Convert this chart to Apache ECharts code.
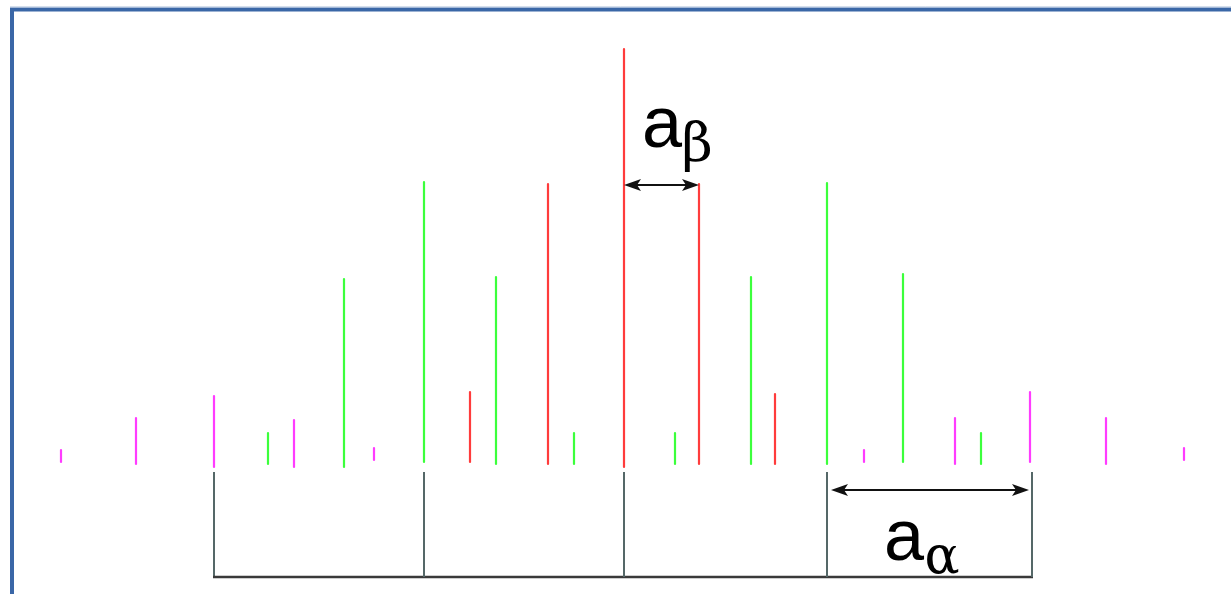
<!DOCTYPE html>
<html>
<head>
<meta charset="utf-8">
<script src="https://cdn.jsdelivr.net/npm/echarts@6/dist/echarts.min.js"></script>
<style>
html,body{margin:0;padding:0;background:#fff;}
#chart{width:1231px;height:594px;}
</style>
</head>
<body>
<div id="chart"></div>
<script>
// Stick spectrum: position (arbitrary units), base and top intensity (arbitrary units, 0 = baseline)
const magentaPos  = [61, 136, 214, 294, 374, 864, 955, 1030, 1106, 1184];
const magentaBase = [3, 1, -2, -2, 5, 3, 1, 3, 1, 5];
const magentaTop  = [15, 47, 69, 45, 17, 15, 47, 73, 47, 17];

const greenPos  = [268, 344, 424, 496, 574, 675, 751, 827, 903, 981];
const greenBase = [1, -2, 3, 1, 1, 1, 1, 1, 3, 1];
const greenTop  = [32, 186, 283, 188, 32, 32, 188, 282, 191, 32];

const redPos  = [470, 548, 624, 699, 775];
const redBase = [3, 1, -2, 1, 1];
const redTop  = [73, 281, 416, 281, 71];

// Bracket below the spectrum
const bracketPos = [214, 424, 624, 827, 1032];
const bracketTop = -7;
const bracketBottom = -112;

// Spacing arrows: [from, to, level]
const arrowBeta  = [624, 699, 280];
const arrowAlpha = [831, 1029, -25];

// Labels: [x, y, text, kind]
const labels = [
  [662, 338, 'a', 'main'],
  [697, 318, 'β', 'sub'],
  [904, -75, 'a', 'main'],
  [942, -94, 'α', 'subA']
];

function sticks(pos, base, top) {
  return pos.map((p, i) => [p, base[i], top[i]]);
}

function stickSeries(name, data, color) {
  return {
    type: 'custom',
    name: name,
    data: data,
    encode: {x: 0, y: [1, 2]},
    silent: true,
    renderItem: function (params, api) {
      const p0 = api.coord([api.value(0), api.value(1)]);
      const p1 = api.coord([api.value(0), api.value(2)]);
      return {
        type: 'line',
        shape: {x1: p0[0], y1: p0[1], x2: p1[0], y2: p1[1]},
        style: {stroke: color, lineWidth: 2.2, lineCap: 'round'}
      };
    }
  };
}

function arrowShape(api, a) {
  const p0 = api.coord([a[0], a[2]]);
  const p1 = api.coord([a[1], a[2]]);
  const L = 17, W = 6;
  return {
    type: 'group',
    children: [
      {type: 'line', shape: {x1: p0[0] + 4, y1: p0[1], x2: p1[0] - 4, y2: p1[1]},
       style: {stroke: '#111', lineWidth: 2.2}},
      {type: 'polygon', shape: {points: [[p0[0], p0[1]], [p0[0] + L, p0[1] - W], [p0[0] + L - 4, p0[1]], [p0[0] + L, p0[1] + W]]},
       style: {fill: '#111'}},
      {type: 'polygon', shape: {points: [[p1[0], p1[1]], [p1[0] - L, p1[1] - W], [p1[0] - L + 4, p1[1]], [p1[0] - L, p1[1] + W]]},
       style: {fill: '#111'}}
    ]
  };
}

const chart = echarts.init(document.getElementById('chart'), null, {renderer: 'canvas'});

const option = {
  animation: false,
  backgroundColor: '#ffffff',
  grid: {left: 0, right: 0, top: 0, bottom: 0},
  xAxis: {type: 'value', min: 0, max: 1231, show: false},
  yAxis: {type: 'value', min: -129, max: 465, show: false},
  graphic: [{
    type: 'rect',
    shape: {x: 12, y: 9.5, width: 1400, height: 800},
    style: {fill: 'none', stroke: '#3a67a7', lineWidth: 4},
    silent: true
  }, {
    type: 'line',
    shape: {x1: 10, y1: 7, x2: 1231, y2: 7},
    style: {stroke: '#a9bedb', lineWidth: 1},
    silent: true
  }],
  series: [
    stickSeries('magenta', sticks(magentaPos, magentaBase, magentaTop), '#ff3cff'),
    stickSeries('green', sticks(greenPos, greenBase, greenTop), '#3cff3c'),
    stickSeries('red', sticks(redPos, redBase, redTop), '#ff3c3c'),
    {
      type: 'custom',
      name: 'bracket',
      data: bracketPos.map(p => [p, bracketTop, bracketBottom]),
      encode: {x: 0, y: [1, 2]},
      silent: true,
      renderItem: function (params, api) {
        const p0 = api.coord([api.value(0), api.value(1)]);
        const p1 = api.coord([api.value(0), api.value(2)]);
        const children = [{
          type: 'line',
          shape: {x1: p0[0], y1: p0[1], x2: p1[0], y2: p1[1]},
          style: {stroke: '#556868', lineWidth: 2}
        }];
        if (params.dataIndex === 0) {
          const q0 = api.coord([bracketPos[0], bracketBottom]);
          const q1 = api.coord([bracketPos[bracketPos.length - 1], bracketBottom]);
          children.push({
            type: 'line',
            shape: {x1: q0[0] - 1, y1: q0[1], x2: q1[0] + 1, y2: q1[1]},
            style: {stroke: '#3a3a3a', lineWidth: 2.5}
          });
        }
        return {type: 'group', children: children};
      }
    },
    {
      type: 'custom',
      name: 'arrows',
      data: [arrowBeta, arrowAlpha],
      encode: {x: [0, 1], y: 2},
      silent: true,
      renderItem: function (params, api) {
        return arrowShape(api, [api.value(0), api.value(1), api.value(2)]);
      }
    },
    {
      type: 'custom',
      name: 'labels',
      data: labels,
      encode: {x: 0, y: 1},
      silent: true,
      renderItem: function (params, api) {
        const d = labels[params.dataIndex];
        const p = api.coord([d[0], d[1]]);
        let font;
        if (d[3] === 'main') font = '72px "Liberation Sans", Arial, sans-serif';
        else if (d[3] === 'sub') font = '54px "DejaVu Serif", serif';
        else font = '52px "DejaVu Serif", serif';
        return {
          type: 'text',
          x: p[0], y: p[1],
          style: {text: d[2], font: font, fill: '#000', align: 'center', verticalAlign: 'middle'}
        };
      }
    }
  ]
};

chart.setOption(option);
</script>
</body>
</html>
